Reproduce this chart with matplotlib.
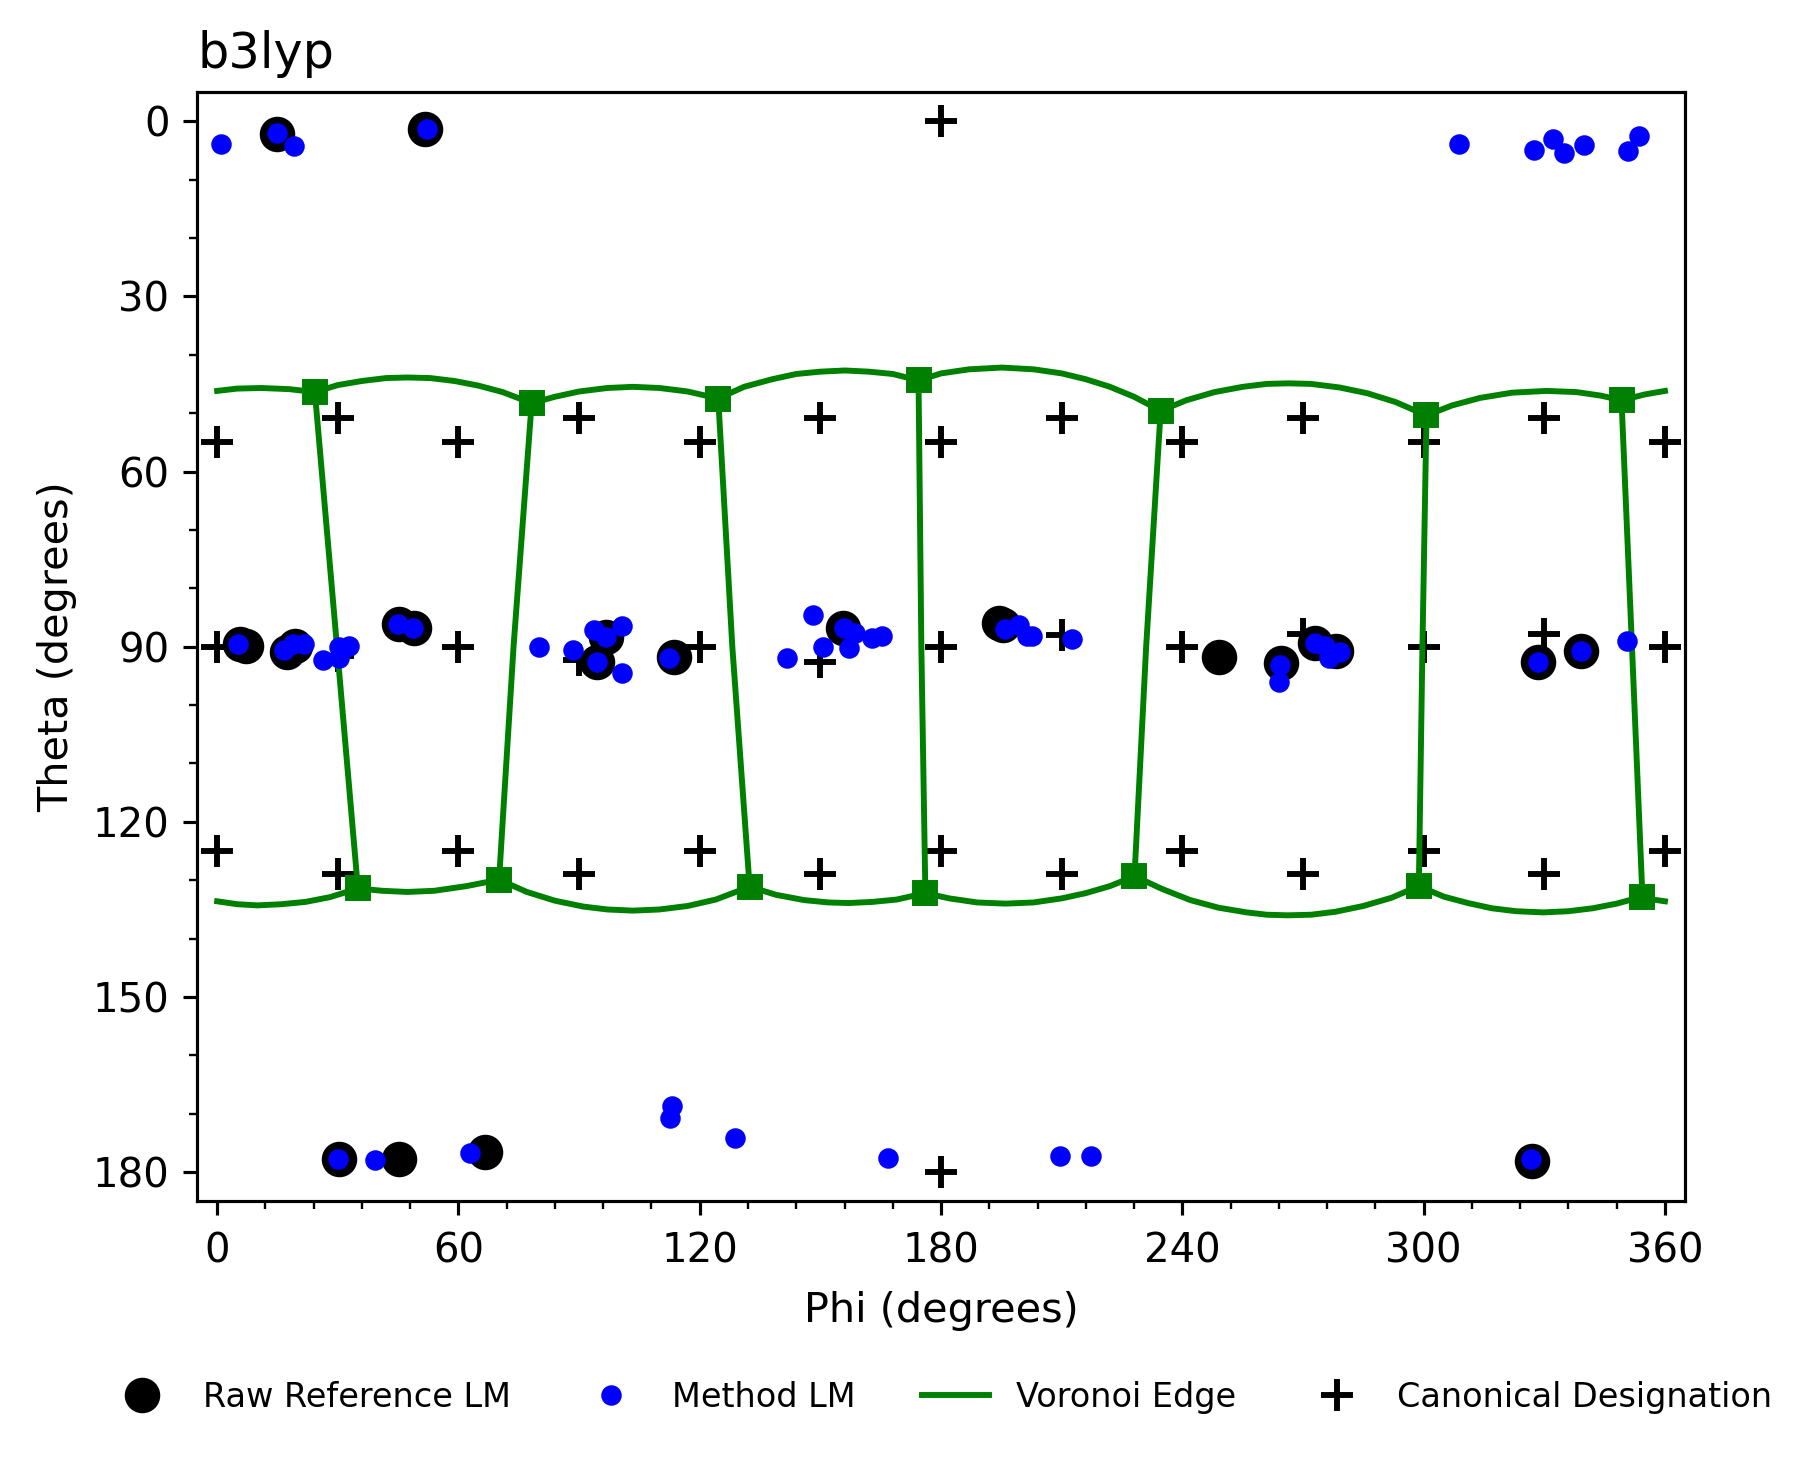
import matplotlib
matplotlib.use("Agg")
import matplotlib.pyplot as plt
from matplotlib.ticker import MultipleLocator

# --- local minima (phi, theta in degrees) ---
ref_phi = [15.0, 51.6, 5.8, 7.2, 17.4, 19.3, 45.2, 49.0, 96.8, 94.4, 113.7,
           155.7, 194.3, 195.5, 249.0, 264.6, 273.1, 278.1, 328.5, 339.2,
           30.2, 45.1, 66.6, 327.0]
ref_theta = [2.2, 1.4, 89.6, 89.8, 90.9, 89.9, 86.2, 86.8, 88.3, 92.6, 91.7,
             86.8, 86.0, 86.3, 91.8, 92.8, 89.3, 90.8, 92.6, 90.7,
             177.7, 177.7, 176.5, 178.0]

method_phi = [1.0, 15.0, 19.2, 52.1, 308.8, 327.5, 332.2, 334.8, 339.8, 350.8, 353.6,
              5.3, 16.7, 18.8, 21.5, 26.4, 30.4, 30.4, 32.9, 45.0, 48.8,
              80.0, 88.5, 93.7, 96.6, 100.6, 94.5, 100.6, 112.4,
              141.7, 148.1, 155.8, 158.5, 150.6, 157.1, 162.8, 165.4,
              195.9, 199.4, 201.3, 202.5, 212.5,
              264.4, 264.0, 273.0, 275.5, 276.4, 279.3, 328.5, 339.2, 350.6,
              30.0, 39.3, 62.9, 113.2, 112.5, 128.8, 166.9, 209.5, 217.4, 326.6]
method_theta = [4.0, 2.0, 4.2, 1.4, 4.0, 4.9, 3.0, 5.4, 4.1, 5.2, 2.6,
                89.6, 90.6, 89.6, 89.6, 92.2, 92.0, 90.1, 89.9, 86.2, 86.8,
                90.1, 90.5, 87.2, 88.3, 86.5, 92.6, 94.5, 92.0,
                91.9, 84.6, 86.8, 87.7, 90.1, 90.3, 88.5, 88.1,
                87.0, 86.3, 88.1, 88.1, 88.6,
                93.1, 96.0, 89.3, 89.9, 91.9, 90.9, 92.7, 90.7, 89.1,
                177.7, 177.9, 176.7, 168.6, 170.7, 174.2, 177.6, 177.2, 177.3, 177.8]

# --- canonical designations ---
canon_phi = ([180]
             + [0, 60, 120, 180, 240, 300, 360]
             + [30, 90, 150, 210, 270, 330]
             + [0, 30, 60, 90, 120, 150, 180, 210, 240, 270, 300, 330, 360]
             + [0, 60, 120, 180, 240, 300, 360]
             + [30, 90, 150, 210, 270, 330]
             + [180])
canon_theta = ([0]
               + [54.9] * 7
               + [50.9] * 6
               + [90, 91.6, 90, 92.2, 90, 92.6, 90, 88.0, 90, 87.9, 90, 87.9, 90]
               + [125.0] * 7
               + [128.9] * 6
               + [180])

# --- voronoi vertices ---
top_vert_phi = [24.3, 78.2, 124.6, 174.4, 234.6, 300.7, 349.2]
top_vert_theta = [46.4, 48.3, 47.5, 44.4, 49.6, 50.4, 47.8]
bot_vert_phi = [35.0, 70.1, 132.4, 176.1, 228.1, 298.8, 354.4]
bot_vert_theta = [131.4, 129.9, 131.1, 132.2, 129.3, 131.0, 132.8]
side_mid_phi = [29.8, 73.7, 128.1, 175.1, 231.0, 299.7, 351.8]
side_mid_theta = [90.0, 90.0, 90.0, 90.0, 90.0, 90.0, 90.0]

# edge traced along the upper boundary (phi 0 -> 360)
top_edge_phi = [0, 5, 11, 18, 24.3, 30, 36, 42, 47.3, 53, 59, 65, 71, 78.2,
                84, 90, 97, 103.4, 110, 117, 124.6,
                131, 138, 144, 150, 156.1, 162, 168, 174.4,
                180, 187, 195.1, 203, 210, 216, 222, 228, 234.6,
                241, 248, 255, 261, 266.4, 272, 279, 286, 293, 300.7,
                307, 314, 322, 330.6, 338, 344, 349.2, 355, 360]
top_edge_theta = [46.2, 45.8, 45.7, 45.9, 46.4, 45.2, 44.5, 44.0, 43.9, 44.0, 44.5, 45.3, 46.4, 48.3,
                  47.2, 46.3, 45.7, 45.5, 45.7, 46.3, 47.5,
                  45.5, 44.2, 43.3, 42.9, 42.7, 42.9, 43.3, 44.4,
                  43.2, 42.5, 42.2, 42.5, 43.2, 44.2, 45.5, 47.2, 49.6,
                  47.8, 46.4, 45.5, 45.0, 44.9, 45.0, 45.6, 46.6, 48.1, 50.4,
                  48.7, 47.4, 46.5, 46.2, 46.4, 47.0, 47.8, 46.8, 46.2]

# edge traced along the lower boundary (phi 0 -> 360)
bot_edge_phi = [0, 5, 10, 16, 22, 28, 35.0, 41, 47.3, 54, 62, 70.1,
                77, 84, 91, 97, 103.4, 110, 117, 124, 132.4,
                139, 146, 152, 157, 163, 169, 176.1,
                182, 189, 196.1, 203, 210, 216, 222, 228.1,
                235, 242, 249, 256, 261, 266.2, 272, 278, 285, 292, 298.8,
                305, 311, 317, 323, 329.7, 336, 342, 348, 354.4, 357, 360]
bot_edge_theta = [133.6, 134.1, 134.3, 134.1, 133.7, 132.9, 131.4, 131.8, 132.0, 131.8, 131.0, 129.9,
                  132.0, 133.5, 134.5, 135.0, 135.2, 135.0, 134.4, 133.3, 131.1,
                  132.5, 133.4, 133.8, 133.9, 133.7, 133.3, 132.2,
                  133.1, 133.8, 134.0, 133.8, 133.1, 132.2, 131.0, 129.3,
                  131.5, 133.4, 134.7, 135.5, 135.9, 136.0, 135.9, 135.4, 134.4, 133.0, 131.0,
                  132.8, 133.9, 134.8, 135.3, 135.5, 135.3, 134.8, 134.0, 132.8, 133.3, 133.6]

GREEN = "green"


def draw_voronoi(ax):
    line, = ax.plot(top_edge_phi, top_edge_theta, color=GREEN, lw=1.5, zorder=2)
    ax.plot(bot_edge_phi, bot_edge_theta, color=GREEN, lw=1.5, zorder=2)
    for i in range(len(top_vert_phi)):
        ax.plot([top_vert_phi[i], side_mid_phi[i], bot_vert_phi[i]],
                [top_vert_theta[i], side_mid_theta[i], bot_vert_theta[i]],
                color=GREEN, lw=1.5, zorder=2)
    ax.plot(top_vert_phi + bot_vert_phi, top_vert_theta + bot_vert_theta,
            linestyle="none", marker="s", ms=5.5, color=GREEN, zorder=2)
    return line


fig = plt.figure(figsize=(1816 / 284, 1457 / 284), dpi=284)
ax = fig.add_axes([0.1085, 0.1754, 0.8194, 0.7615])

canon, = ax.plot(canon_phi, canon_theta, linestyle="none", marker="+",
                 ms=8, mew=1.5, color="black", zorder=1)
edge = draw_voronoi(ax)
ref, = ax.plot(ref_phi, ref_theta, linestyle="none", marker="o", ms=8,
               color="black", zorder=3)
meth, = ax.plot(method_phi, method_theta, linestyle="none", marker="o", ms=4.2,
                color="blue", zorder=4)

ax.set_xlim(-5, 365)
ax.set_ylim(185, -5)
ax.xaxis.set_major_locator(MultipleLocator(60))
ax.xaxis.set_minor_locator(MultipleLocator(12))
ax.yaxis.set_major_locator(MultipleLocator(30))
ax.yaxis.set_minor_locator(MultipleLocator(10))
ax.tick_params(axis="both", which="major", labelsize=10.2)
ax.tick_params(axis="x", which="major", pad=4.1)
ax.set_xlabel("Phi (degrees)", fontsize=10.5, labelpad=5)
ax.set_ylabel("Theta (degrees)", fontsize=10.5)
ax.set_title("b3lyp", loc="left", fontsize=12.5)

fig.legend([ref, meth, edge, canon],
           ["Raw Reference LM", "Method LM", "Voronoi Edge", "Canonical Designation"],
           loc="center", bbox_to_anchor=(0.518, 0.0408), ncol=4,
           frameon=False, fontsize=8.5)

fig.savefig("out.png", dpi=284)
